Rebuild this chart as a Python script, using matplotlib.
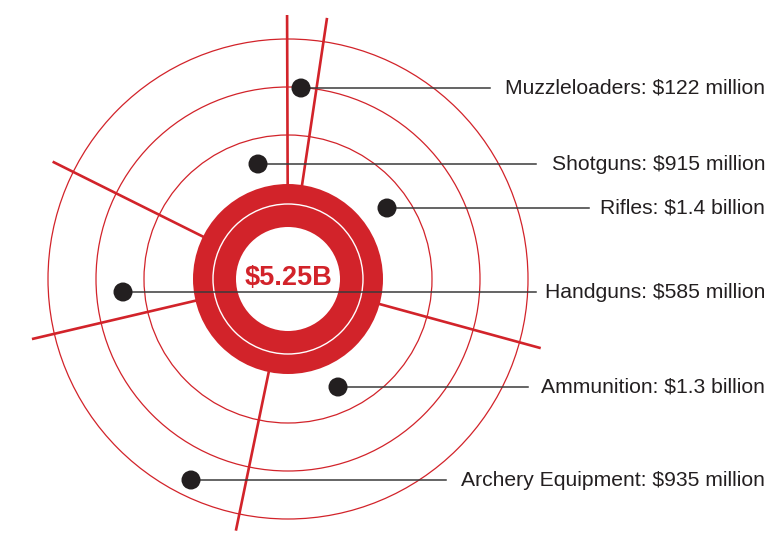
import numpy as np
import matplotlib
matplotlib.use("Agg")
import matplotlib.pyplot as plt
from matplotlib.patches import Circle

# ---- data ----
categories = ["Muzzleloaders", "Shotguns", "Rifles", "Handguns", "Ammunition", "Archery Equipment"]
value_labels = ["$122 million", "$915 million", "$1.4 billion", "$585 million", "$1.3 billion", "$935 million"]
total_label = "$5.25B"

# layout (pixel space of the target graphic)
dot_x = [301, 258, 387, 123, 338, 191]
dot_y = [88, 164, 208, 292, 387, 480]
leader_end_x = [490, 536, 589, 536, 528, 446]

ring_radii = [144, 192, 240]
spoke_angles = [90.2, 81.5, 153.5, 193.2, 344.7, 258.3]
spoke_lengths = [264, 264, 263, 263, 262, 257]

RED = "#d2232a"
DARK = "#231f20"
cx, cy = 288, 279

fig = plt.figure(figsize=(7.68, 5.33), dpi=100)
ax = fig.add_axes([0, 0, 1, 1])
ax.set_xlim(0, 768)
ax.set_ylim(533, 0)
ax.set_aspect("equal")
ax.axis("off")

for r in ring_radii:
    ax.add_patch(Circle((cx, cy), r, fill=False, ec=RED, lw=0.9, zorder=1))

for ang, L in zip(spoke_angles, spoke_lengths):
    a = np.deg2rad(ang)
    x0, y0 = cx + 94 * np.cos(a), cy - 94 * np.sin(a)
    x1, y1 = cx + L * np.cos(a), cy - L * np.sin(a)
    ax.plot([x0, x1], [y0, y1], color=RED, lw=1.9, solid_capstyle="butt", zorder=2)

# bullseye
ax.add_patch(Circle((cx, cy), 95, fc=RED, ec="none", zorder=3))
ax.add_patch(Circle((cx, cy), 52, fc="white", ec="none", zorder=4))
ax.add_patch(Circle((cx, cy), 75, fill=False, ec="white", lw=1.0, zorder=4))

ax.text(cx, cy - 1, total_label, color=RED, fontsize=19.5, fontweight="bold",
        family="Liberation Sans", ha="center", va="center", zorder=6)

for cat, val, x, y, xe in zip(categories, value_labels, dot_x, dot_y, leader_end_x):
    ax.plot([x, xe], [y, y], color="#3a3a3a", lw=1.1, zorder=7)
    ax.add_patch(Circle((x, y), 9.5, fc=DARK, ec="none", zorder=8))
    ax.text(765, y, f"{cat}: {val}", fontsize=15.2, family="Liberation Sans",
            color=DARK, ha="right", va="center", zorder=8)

fig.savefig("out.png", dpi=100)
